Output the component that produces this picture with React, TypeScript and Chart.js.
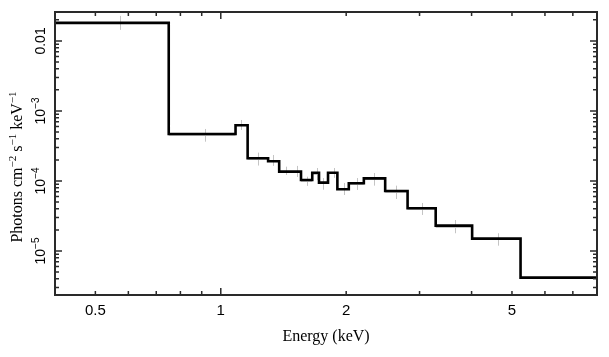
import React, { useEffect, useRef } from "react";
import { Chart, registerables } from "chart.js";

Chart.register(...registerables);

// Folded model (step histogram): bin edges (keV) and heights (photons cm^-2 s^-1 keV^-1)
const modelEdges = [0.4, 0.75, 1.085, 1.16, 1.299, 1.381, 1.474, 1.558, 1.658, 1.721, 1.809, 1.905, 2.029, 2.205, 2.481, 2.808, 3.28, 4.012, 5.243, 8.0];
const modelValues = [0.0181, 4.69e-4, 6.25e-4, 2.11e-4, 1.91e-4, 1.36e-4, 1.36e-4, 1.03e-4, 1.31e-4, 9.46e-5, 1.31e-4, 7.6e-5, 9.27e-5, 1.09e-4, 7.2e-5, 4.07e-5, 2.3e-5, 1.5e-5, 4.16e-6];

// Data points (grey crosses)
const dataEnergy = [0.574, 0.915, 1.119, 1.226, 1.336, 1.431, 1.521, 1.613, 1.7, 1.763, 1.865, 1.977, 2.121, 2.336, 2.636, 3.04, 3.657, 4.63];
const dataEdges = [0.44, 0.75, 1.085, 1.16, 1.299, 1.381, 1.474, 1.558, 1.658, 1.721, 1.809, 1.905, 2.029, 2.205, 2.481, 2.808, 3.28, 4.012, 5.243];
const dataValues = [0.0181, 4.5e-4, 6.3e-4, 2.05e-4, 1.96e-4, 1.4e-4, 1.37e-4, 9.9e-5, 1.25e-4, 9.2e-5, 1.3e-4, 7.7e-5, 9.0e-5, 1.06e-4, 6.9e-5, 4.0e-5, 2.2e-5, 1.46e-5];
const dataLow = [0.0144, 3.64e-4, 5.35e-4, 1.66e-4, 1.64e-4, 1.22e-4, 1.14e-4, 8.5e-5, 1.03e-4, 7.5e-5, 1.11e-4, 6.3e-5, 7.44e-5, 8.57e-5, 5.53e-5, 3.27e-5, 1.79e-5, 1.19e-5];
const dataHigh = [0.0228, 5.53e-4, 7.43e-4, 2.54e-4, 2.35e-4, 1.6e-4, 1.64e-4, 1.15e-4, 1.53e-4, 1.1e-4, 1.53e-4, 9.36e-5, 1.1e-4, 1.3e-4, 8.57e-5, 4.85e-5, 2.77e-5, 1.79e-5];

// Axes
const xMin = 0.4;
const xMax = 8.0;
const yMin = 2.35e-6;
const yMax = 0.0259;
const xTickValues = [0.5, 1, 2, 5];
const xTickLabels = ["0.5", "1", "2", "5"];
const xMinorTicks = [0.5, 0.6, 0.7, 0.8, 0.9, 2, 3, 4, 5, 6, 7];
const xMajorTicks = [1];
const yTickValues = [1e-2, 1e-3, 1e-4, 1e-5];
const yTickBase = ["0.01", "10", "10", "10"];
const yTickExp = ["", "\u22123", "\u22124", "\u22125"];
const yDecades = [1e-6, 1e-5, 1e-4, 1e-3, 1e-2];
const yMultipliers = [2, 3, 4, 5, 6, 7, 8, 9];

const xTitle = "Energy (keV)";
const yTitleParts: [string, boolean][] = [
  ["Photons cm", false],
  ["\u22122", true],
  [" s", false],
  ["\u22121", true],
  [" keV", false],
  ["\u22121", true],
];

const decorPlugin = {
  id: "decor",
  beforeDatasetsDraw(chart: any) {
    const { ctx, scales } = chart;
    const x = scales.x;
    const y = scales.y;
    ctx.save();
    ctx.beginPath();
    ctx.rect(chart.chartArea.left, chart.chartArea.top, chart.chartArea.right - chart.chartArea.left, chart.chartArea.bottom - chart.chartArea.top);
    ctx.clip();
    ctx.strokeStyle = "#c4c4c4";
    ctx.lineWidth = 1;
    for (let i = 0; i < dataEnergy.length; i++) {
      const xc = Math.round(x.getPixelForValue(dataEnergy[i])) + 0.5;
      const xl = x.getPixelForValue(dataEdges[i]);
      const xr = x.getPixelForValue(dataEdges[i + 1]);
      const yc = Math.round(y.getPixelForValue(dataValues[i])) + 0.5;
      const yl = y.getPixelForValue(dataLow[i]);
      const yh = y.getPixelForValue(dataHigh[i]);
      ctx.beginPath();
      ctx.moveTo(xl, yc);
      ctx.lineTo(xr, yc);
      ctx.moveTo(xc, yl);
      ctx.lineTo(xc, yh);
      ctx.stroke();
    }
    ctx.restore();
  },
  afterDraw(chart: any) {
    const { ctx, scales, chartArea } = chart;
    const x = scales.x;
    const y = scales.y;
    const { left, right, top, bottom } = chartArea;
    ctx.save();
    // frame
    ctx.strokeStyle = "#2a2a2a";
    ctx.lineWidth = 2;
    ctx.strokeRect(left, top, right - left, bottom - top);

    // x ticks (bottom and top, inward)
    ctx.lineWidth = 1.5;
    const drawXTick = (v: number, len: number) => {
      const px = x.getPixelForValue(v);
      if (px <= left + 1 || px >= right - 1) return;
      ctx.beginPath();
      ctx.moveTo(px, bottom);
      ctx.lineTo(px, bottom - len);
      ctx.moveTo(px, top);
      ctx.lineTo(px, top + len);
      ctx.stroke();
    };
    xMinorTicks.forEach((v) => drawXTick(v, 4));
    xMajorTicks.forEach((v) => drawXTick(v, 7));

    // y ticks
    const drawYTick = (v: number, len: number) => {
      const py = y.getPixelForValue(v);
      if (py <= top + 1 || py >= bottom - 1) return;
      ctx.beginPath();
      ctx.moveTo(left, py);
      ctx.lineTo(left + len, py);
      ctx.moveTo(right, py);
      ctx.lineTo(right - len, py);
      ctx.stroke();
    };
    yDecades.forEach((d) => {
      drawYTick(d, 7);
      yMultipliers.forEach((m) => drawYTick(d * m, 4));
    });

    // y tick labels (rotated)
    ctx.fillStyle = "#000";
    ctx.textBaseline = "alphabetic";
    ctx.textAlign = "left";
    const baseFont = '14px "Liberation Sans", Arial, sans-serif';
    const expFont = '10px "Liberation Sans", Arial, sans-serif';
    yTickValues.forEach((v, i) => {
      const py = y.getPixelForValue(v);
      ctx.font = baseFont;
      const wb = ctx.measureText(yTickBase[i]).width;
      ctx.font = expFont;
      const we = yTickExp[i] ? ctx.measureText(yTickExp[i]).width : 0;
      const total = wb + we;
      ctx.save();
      ctx.translate(45, py);
      ctx.rotate(-Math.PI / 2);
      ctx.font = baseFont;
      ctx.fillText(yTickBase[i], -total / 2, 0);
      if (yTickExp[i]) {
        ctx.font = expFont;
        ctx.fillText(yTickExp[i], -total / 2 + wb, -6);
      }
      ctx.restore();
    });

    // y title (rotated)
    const tFont = '16px "Liberation Serif", "Times New Roman", serif';
    const sFont = '11px "Liberation Serif", "Times New Roman", serif';
    let tw = 0;
    yTitleParts.forEach(([t, sup]) => {
      ctx.font = sup ? sFont : tFont;
      tw += ctx.measureText(t).width;
    });
    ctx.save();
    ctx.translate(22, 167);
    ctx.rotate(-Math.PI / 2);
    let cx = -tw / 2;
    yTitleParts.forEach(([t, sup]) => {
      ctx.font = sup ? sFont : tFont;
      ctx.fillText(t, cx, sup ? -6 : 0);
      cx += ctx.measureText(t).width;
    });
    ctx.restore();

    ctx.restore();
  },
};

export default function App() {
  const canvasRef = useRef<HTMLCanvasElement | null>(null);

  useEffect(() => {
    document.body.style.margin = "0";
    const canvas = canvasRef.current;
    if (!canvas) return;

    const stepData = modelValues.map((v, i) => ({ x: modelEdges[i], y: v }));
    stepData.push({ x: modelEdges[modelEdges.length - 1], y: modelValues[modelValues.length - 1] });

    const chart = new Chart(canvas, {
      type: "line",
      data: {
        datasets: [
          {
            label: "model",
            data: stepData,
            stepped: "before",
            borderColor: "#000",
            borderWidth: 2.6,
            pointRadius: 0,
            fill: false,
          },
        ],
      },
      options: {
        animation: false,
        responsive: false,
        devicePixelRatio: 1,
        layout: { padding: { top: 12, right: 12, left: 0, bottom: 0 } },
        plugins: {
          legend: { display: false },
          tooltip: { enabled: false },
        },
        scales: {
          x: {
            type: "logarithmic",
            min: xMin,
            max: xMax,
            grid: { display: false, drawTicks: false },
            border: { display: false },
            afterBuildTicks: (s: any) => {
              s.ticks = xTickValues.map((v) => ({ value: v }));
            },
            ticks: {
              autoSkip: false,
              maxRotation: 0,
              minRotation: 0,
              padding: 7,
              color: "#000",
              font: { family: '"Liberation Sans", Arial, sans-serif', size: 15 },
              callback: (_v: any, i: number) => xTickLabels[i],
            },
            title: {
              display: true,
              text: xTitle,
              color: "#000",
              font: { family: '"Liberation Serif", "Times New Roman", serif', size: 16 },
              padding: { top: 0, bottom: 11 },
            },
            afterFit: (s: any) => {
              s.height = 62;
            },
          },
          y: {
            type: "logarithmic",
            min: yMin,
            max: yMax,
            grid: { display: false, drawTicks: false },
            border: { display: false },
            ticks: { display: false },
            afterFit: (s: any) => {
              s.width = 55;
            },
          },
        },
      },
      plugins: [decorPlugin],
    });

    return () => chart.destroy();
  }, []);

  return (
    <div style={{ position: "absolute", left: 0, top: 0, width: 609, height: 357, background: "#fff" }}>
      <canvas ref={canvasRef} width={609} height={357} />
    </div>
  );
}
